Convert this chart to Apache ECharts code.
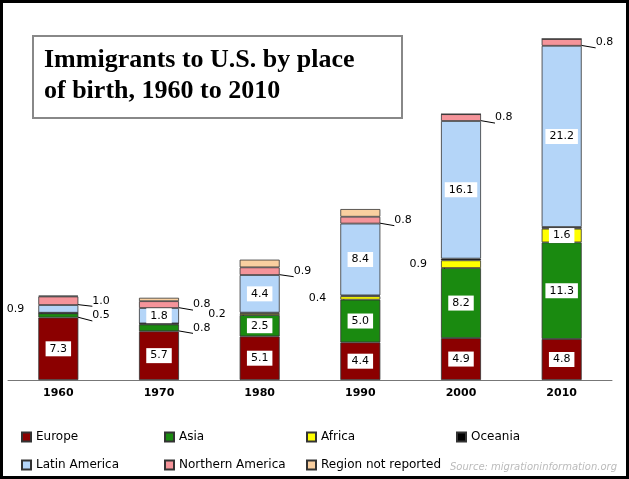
<!DOCTYPE html>
<html><head><meta charset="utf-8">
<script src="https://cdn.jsdelivr.net/npm/echarts@6/dist/echarts.min.js"></script>
<style>html,body{margin:0;background:#fff}#c{width:629px;height:479px}</style>
</head><body><div id="c"></div>
<script>
const years = ["1960", "1970", "1980", "1990", "2000", "2010"];
const europe = [7.3, 5.7, 5.1, 4.4, 4.9, 4.8];
const asia = [0.5, 0.8, 2.5, 5.0, 8.2, 11.3];
const africa = [0.03, 0.08, 0.2, 0.4, 0.9, 1.6];
const oceania = [0.04, 0.04, 0.08, 0.1, 0.2, 0.2];
const latin = [0.9, 1.8, 4.4, 8.4, 16.1, 21.2];
const northern = [1.0, 0.8, 0.9, 0.8, 0.8, 0.8];
const notReported = [0.1, 0.4, 0.9, 0.9, 0, 0];
// label mode per point: "in" = white box, "l"/"r" = outside with line, "" = none
const europeLab = ["in", "in", "in", "in", "in", "in"];
const asiaLab = ["r", "r", "in", "in", "in", "in"];
const africaLab = ["", "", "l", "l", "l", "in"];
const latinLab = ["l", "in", "in", "in", "in", "in"];
const northernLab = ["r", "r", "r", "r", "r", "r"];

function pts(vals, modes) {
  return vals.map((v, i) => {
    const m = modes ? modes[i] : "";
    if (m === "in") return {value: v, label: {show: true, position: "inside", backgroundColor: "#fff",
      color: "#000", fontFamily: "DejaVu Sans", fontSize: 11, padding: [2, 4], formatter: v.toFixed(1)}};
    if (m === "r" || m === "l") return {value: v,
      label: {show: true, position: m === "r" ? "right" : "left", distance: 14,
        color: "#000", fontFamily: "DejaVu Sans", fontSize: 11, formatter: v.toFixed(1)},
      labelLine: {show: true, lineStyle: {color: "#000"}}};
    return {value: v, label: {show: false}};
  });
}
const sBase = {type: "bar", stack: "t", barWidth: 40,
  itemStyle: {borderColor: "#333", borderWidth: 0.8}};
const series = [
  ["Europe", europe, "#8b0000", europeLab],
  ["Asia", asia, "#1a8a10", asiaLab],
  ["Africa", africa, "#ffff00", africaLab],
  ["Oceania", oceania, "#000000", null],
  ["Latin America", latin, "#b4d5f8", latinLab],
  ["Northern America", northern, "#f5949a", northernLab],
  ["Region not reported", notReported, "#f9cfa0", null]
].map(([n, d, c, m]) => Object.assign({}, sBase, {name: n, data: pts(d, m),
  itemStyle: Object.assign({}, sBase.itemStyle, {color: c})}));

const legPos = [[16, 426], [159, 426], [301, 426], [451, 426], [16, 454], [159, 454], [301, 454]];
const legend = series.map((s, i) => ({data: [s.name], left: legPos[i][0], top: legPos[i][1],
  itemWidth: 9, itemHeight: 9, icon: "rect",
  textStyle: {fontFamily: "DejaVu Sans", fontSize: 12, color: "#000"}}));

const chart = echarts.init(document.getElementById("c"));
chart.setOption({
  animation: false,
  grid: {left: 8, right: 17, top: 21, bottom: 99},
  xAxis: {type: "category", data: years,
    axisLine: {lineStyle: {color: "#777"}}, axisTick: {lineStyle: {color: "#777"}},
    axisLabel: {color: "#000", fontWeight: "bold", fontFamily: "DejaVu Sans", fontSize: 11, margin: 8}},
  yAxis: {type: "value", min: 0, max: 42, show: false, splitLine: {show: false}},
  legend: legend,
  graphic: [
    {type: "rect", shape: {x: 33, y: 36, width: 369, height: 82},
      style: {fill: "#fff", stroke: "#888", lineWidth: 2}},
    {type: "text", left: 44, top: 45, style: {text: "Immigrants to U.S. by place\nof birth, 1960 to 2010",
      font: "bold 26px 'Liberation Serif'", fill: "#000", lineHeight: 31}},
    {type: "text", right: 12, top: 462, style: {text: "Source: migrationinformation.org",
      font: "italic 10px 'DejaVu Sans'", fill: "#bbb"}},
    {type: "rect", shape: {x: 0, y: 0, width: 629, height: 479},
      style: {fill: "none", stroke: "#000", lineWidth: 6}}
  ],
  series: series
});
</script></body></html>
